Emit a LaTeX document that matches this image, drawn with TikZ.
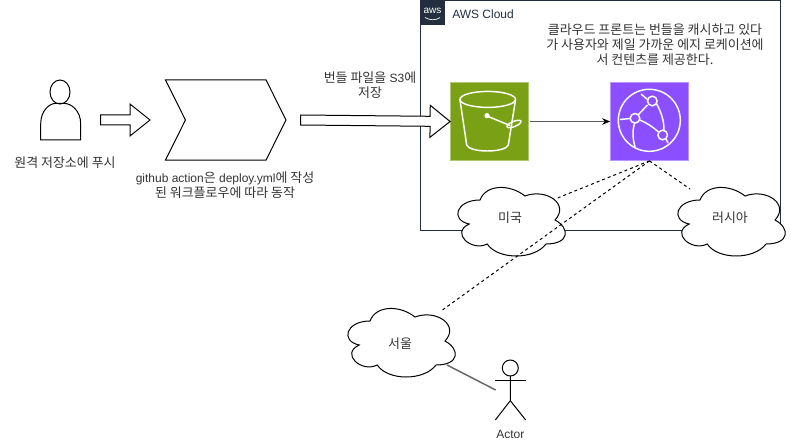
\documentclass[tikz,border=0pt]{standalone}
\usepackage{fontspec}
\setmainfont{Liberation Sans}
\newfontfamily\kr[Scale=1.08]{Noto Sans CJK KR}
\usetikzlibrary{arrows.meta,calc,shapes.symbols}
\definecolor{awsdark}{HTML}{232F3E}
\definecolor{s3green}{HTML}{7AA116}
\definecolor{cfpurple}{HTML}{8C4FFF}
\definecolor{textgray}{HTML}{333333}
\tikzset{
  label text/.style={font=\fontsize{9}{11.25}\selectfont, text=textgray, align=center, inner sep=0},
  icon line/.style={draw=white, line width=1.1pt},
  block arrow/.style={draw=black, fill=white, line width=.75pt, line join=miter},
  edge link/.style={draw=black, line width=.75pt, dash pattern=on 2.25pt off 2.25pt},
  cloudoutline/.pic={
    \draw[fill=white, line width=.75pt] (30,20) .. controls (6,20) and (0,40) .. (19.2,44)
      .. controls (0,52.8) and (21.6,72) .. (37.2,64)
      .. controls (48,80) and (84,80) .. (96,64)
      .. controls (120,64) and (120,48) .. (105,40)
      .. controls (120,24) and (96,8) .. (75,16)
      .. controls (60,4) and (36,4) .. (30,20) -- cycle;
  }
}
\newcommand{\blockarrow}[2]{
  \coordinate (arrowneck) at ($(#2)!15pt!(#1)$);
  \draw[block arrow] ($(#1)!3.75pt!90:(#2)$) -- ($(arrowneck)!3.75pt!90:(#2)$) -- ($(arrowneck)!12pt!90:(#2)$) -- (#2)
    -- ($(arrowneck)!12pt!-90:(#2)$) -- ($(arrowneck)!3.75pt!-90:(#2)$) -- ($(#1)!3.75pt!-90:(#2)$) -- cycle;
}
\begin{document}
\begin{tikzpicture}[x=.75pt, y=-.75pt]
\useasboundingbox (0,0) rectangle (791,442);

% aws region
\node (cloudbox) at (600,115.5) [draw=awsdark, line width=.75pt, minimum width=270pt, minimum height=172.5pt, inner sep=0] {};
\node (logo) at (432.5,12.5) [fill=awsdark, minimum size=18.75pt, inner sep=0] {};
\node at (432.5,10.5) [font=\fontsize{7.5}{8}\selectfont, text=white, inner sep=0] {aws};
\draw[white, line width=.5pt] (425,17.5) .. controls (430,20.5) and (436,20.5) .. (440,17.5);
\node (cloudname) at (452,14) [label text, anchor=west, text=awsdark] {AWS Cloud};
\node (cachetext) at (655,45) [label text] {{\kr 클라우드 프론트는 번들을 캐시하고 있다}\\{\kr 가 사용자와 제일 가까운 에지 로케이션에}\\{\kr 서 컨텐츠를 제공한다.}};

% s3 bucket
\node (bucket) at (489.5,121.5) [fill=s3green, draw=s3green!60!white, line width=.6pt, minimum size=58.5pt, inner sep=0] {};
\draw[icon line] (487.7,99.4) ellipse (27.8 and 8);
\draw[icon line] (460,100) -- (466.7,145) .. controls (470,153) and (505,153) .. (508.3,145) -- (515.5,100);
\draw[icon line] (487,116) -- (510,125.5);
\fill[white] (487,115.7) circle (2.6);
\draw[icon line, rotate around={22:(514,124)}] (514,124) ellipse (7.5 and 2.6);

% cloudfront
\node (front) at (649.5,121.5) [fill=cfpurple, draw=cfpurple!60!white, line width=.6pt, minimum size=58.5pt, inner sep=0] {};
\draw[icon line] (649.3,120.3) circle (31);
\draw[icon line] (652.3,101) circle (4.8);
\draw[icon line] (635,118.3) circle (4.8);
\draw[icon line] (662.7,135) circle (4.8);
\draw[icon line] (647.5,105) -- (638.5,114.5);
\draw[icon line] (639.8,120) .. controls (647,123) and (653,127) .. (658.5,132);
\draw[icon line] (656.5,103.5) .. controls (661,112) and (664,120) .. (664,130);
\draw[icon line] (634.5,123) .. controls (632,132) and (633,140) .. (635,147);
\draw[icon line] (630.2,118.5) -- (620,119.5);
\draw[icon line] (647.5,99.5) -- (641,94);
\draw[icon line] (666,139) -- (668,143);

% left side
\draw[line width=.75pt] (60,92) ellipse (10 and 12);
\draw[line width=.75pt] (40.7,140) -- (40.7,124) .. controls (40.7,110) and (50,103.5) .. (55,103.5)
  -- (65,103.5) .. controls (70.5,103.5) and (80.7,110) .. (80.7,124) -- (80.7,140) -- cycle;
\node (pushtext) at (65,163) [label text] {\kr 원격 저장소에 푸시};
\coordinate (pushstart) at (100.7,120);
\coordinate (pushend) at (150,120);
\blockarrow{pushstart}{pushend}
\node (action) at (225.75,120) [draw, signal, signal from=west, signal to=east, signal pointer angle=127, line width=.75pt, minimum width=90.4pt, minimum height=60pt, inner sep=0] {};
\node (actiontext) at (225,185.5) [label text] {github action{\kr 은} deploy.yml{\kr 에 작성}\\{\kr 된 워크플로우에 따라 동작}};
\node (savetext) at (370,85.5) [label text] {{\kr 번들 파일을} S3{\kr 에}\\{\kr 저장}};
\coordinate (savestart) at (300.7,120);
\blockarrow{savestart}{bucket.west}

\draw[draw=black!65, line width=.9pt, -{Stealth[black, length=6pt, width=5pt]}] (bucket.east)+(1,0) -- (front.west);

% clouds
\pic at (450,180) {cloudoutline};
\node (usa) at (510,218) [label text] {\kr 미국};
\pic at (670,180) {cloudoutline};
\node (russia) at (730,218) [label text] {\kr 러시아};
\pic at (340,301) {cloudoutline};
\node (seoul) at (400,344) [label text] {\kr 서울};

\coordinate (usaend) at (555,199);
\coordinate (russiaend) at (690,189);
\coordinate (seoulend) at (441,311);
\draw[edge link] (front.south) -- (usaend);
\draw[edge link] (front.south) -- (russiaend);
\draw[edge link] (front.south) -- (seoulend);

% actor
\draw[line width=.75pt] (510.3,368) circle (8);
\coordinate (neck) at (510.3,376);
\coordinate (hip) at (510.3,400.7);
\draw[line width=.75pt] (neck) -- (hip) -- (495.3,420);
\draw[line width=.75pt] (hip) -- (525.7,420);
\draw[line width=.75pt] (495.3,380) -- (525.7,380);
\node (actorname) at (510.3,434) [label text] {Actor};
\coordinate (seoulout) at (447,365);
\coordinate (actorin) at (495.7,390);
\draw[draw=black!60, line width=1.1pt] (seoulout) -- (actorin);
\end{tikzpicture}
\end{document}
